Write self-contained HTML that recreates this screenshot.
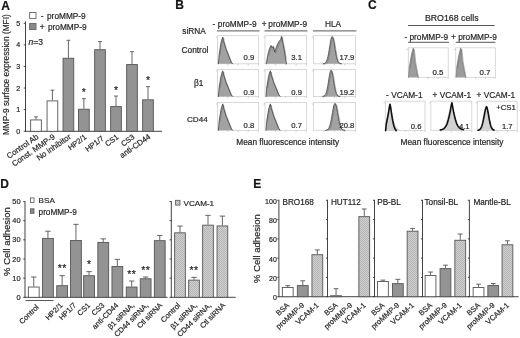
<!DOCTYPE html>
<html><head><meta charset="utf-8"><title>Figure</title>
<style>
html,body{margin:0;padding:0;background:#fff;width:520px;height:338px;overflow:hidden}
svg{display:block;filter:blur(0.3px)}
text{font-family:"Liberation Sans", sans-serif;stroke:#2a2a2a;stroke-width:0.2px}
</style></head><body>
<svg width="520" height="338" viewBox="0 0 520 338">
<defs>
<pattern id="hatch" width="2" height="2" patternUnits="userSpaceOnUse">
<rect width="2" height="2" fill="#d0d0d0"/><rect width="1" height="1" fill="#b4b4b4"/><rect x="1" y="1" width="1" height="1" fill="#b4b4b4"/>
</pattern>
</defs>
<text x="1.3" y="9.8" font-size="12" font-weight="bold" fill="#111">A</text>
<line x1="25.50" y1="21.40" x2="25.50" y2="131.80" stroke="#3a3a3a" stroke-width="0.95"/>
<line x1="25.00" y1="131.30" x2="162.00" y2="131.30" stroke="#3a3a3a" stroke-width="0.95"/>
<line x1="23.70" y1="131.20" x2="25.50" y2="131.20" stroke="#3a3a3a" stroke-width="0.9"/>
<text x="20.3" y="133.8" font-size="7.2" text-anchor="end" fill="#1c1c1c">0</text>
<line x1="23.70" y1="109.62" x2="25.50" y2="109.62" stroke="#3a3a3a" stroke-width="0.9"/>
<text x="20.3" y="112.22" font-size="7.2" text-anchor="end" fill="#1c1c1c">1</text>
<line x1="23.70" y1="88.04" x2="25.50" y2="88.04" stroke="#3a3a3a" stroke-width="0.9"/>
<text x="20.3" y="90.64" font-size="7.2" text-anchor="end" fill="#1c1c1c">2</text>
<line x1="23.70" y1="66.46" x2="25.50" y2="66.46" stroke="#3a3a3a" stroke-width="0.9"/>
<text x="20.3" y="69.06" font-size="7.2" text-anchor="end" fill="#1c1c1c">3</text>
<line x1="23.70" y1="44.88" x2="25.50" y2="44.88" stroke="#3a3a3a" stroke-width="0.9"/>
<text x="20.3" y="47.48" font-size="7.2" text-anchor="end" fill="#1c1c1c">4</text>
<line x1="23.70" y1="23.30" x2="25.50" y2="23.30" stroke="#3a3a3a" stroke-width="0.9"/>
<text x="20.3" y="25.9" font-size="7.2" text-anchor="end" fill="#1c1c1c">5</text>
<text x="8.6" y="74.7" font-size="8.3" text-anchor="middle" fill="#1c1c1c" transform="rotate(-90 8.6 74.7)">MMP-9 surface expression (MFI)</text>
<rect x="29.60" y="12.50" width="6.40" height="6.00" fill="#ffffff" stroke="#666" stroke-width="0.9"/>
<text x="40.8" y="19.0" font-size="8.3" fill="#1c1c1c">-</text>
<text x="47.0" y="19.0" font-size="8.3" fill="#1c1c1c">proMMP-9</text>
<rect x="29.60" y="23.50" width="6.40" height="6.00" fill="#8a8a8a" stroke="#666" stroke-width="0.9"/>
<text x="39.8" y="29.8" font-size="8.3" fill="#1c1c1c">+</text>
<text x="47.9" y="29.8" font-size="8.3" fill="#1c1c1c">proMMP-9</text>
<text x="28.6" y="44.7" font-size="8.5" fill="#1c1c1c"><tspan font-style="italic">n</tspan>=3</text>
<line x1="36.00" y1="119.48" x2="36.00" y2="116.86" stroke="#555" stroke-width="0.9"/>
<line x1="34.10" y1="116.86" x2="37.90" y2="116.86" stroke="#555" stroke-width="0.9"/>
<rect x="30.65" y="119.93" width="10.70" height="11.37" fill="#ffffff" stroke="#555" stroke-width="0.9"/>
<text x="39.2" y="137.9" font-size="7.9" text-anchor="end" fill="#1c1c1c" transform="rotate(-35 39.2 137.9)">Control Ab</text>
<line x1="52.40" y1="100.45" x2="52.40" y2="90.17" stroke="#555" stroke-width="0.9"/>
<line x1="50.50" y1="90.17" x2="54.30" y2="90.17" stroke="#555" stroke-width="0.9"/>
<rect x="47.05" y="100.90" width="10.70" height="30.40" fill="#ffffff" stroke="#555" stroke-width="0.9"/>
<text x="55.6" y="137.9" font-size="7.9" text-anchor="end" fill="#1c1c1c" transform="rotate(-35 55.6 137.9)">Const. MMP-9</text>
<line x1="68.40" y1="57.78" x2="68.40" y2="40.28" stroke="#555" stroke-width="0.9"/>
<line x1="66.50" y1="40.28" x2="70.30" y2="40.28" stroke="#555" stroke-width="0.9"/>
<rect x="63.05" y="58.23" width="10.70" height="73.07" fill="#939393" stroke="#555" stroke-width="0.9"/>
<text x="71.6" y="137.9" font-size="7.9" text-anchor="end" fill="#1c1c1c" transform="rotate(-35 71.6 137.9)">No inhibitor</text>
<line x1="83.90" y1="108.76" x2="83.90" y2="98.70" stroke="#555" stroke-width="0.9"/>
<line x1="82.00" y1="98.70" x2="85.80" y2="98.70" stroke="#555" stroke-width="0.9"/>
<rect x="78.55" y="109.21" width="10.70" height="22.09" fill="#939393" stroke="#555" stroke-width="0.9"/>
<text x="83.9" y="96.2" font-size="10.5" text-anchor="middle" fill="#1c1c1c">*</text>
<text x="87.1" y="137.9" font-size="7.5" text-anchor="end" fill="#1c1c1c" transform="rotate(-37 87.1 137.9)">HP2/1</text>
<line x1="100.00" y1="49.25" x2="100.00" y2="41.59" stroke="#555" stroke-width="0.9"/>
<line x1="98.10" y1="41.59" x2="101.90" y2="41.59" stroke="#555" stroke-width="0.9"/>
<rect x="94.65" y="49.70" width="10.70" height="81.60" fill="#939393" stroke="#555" stroke-width="0.9"/>
<text x="104.4" y="139.4" font-size="7.5" text-anchor="end" fill="#1c1c1c" transform="rotate(-37 104.4 139.4)">HP1/7</text>
<line x1="116.00" y1="106.14" x2="116.00" y2="96.07" stroke="#555" stroke-width="0.9"/>
<line x1="114.10" y1="96.07" x2="117.90" y2="96.07" stroke="#555" stroke-width="0.9"/>
<rect x="110.65" y="106.59" width="10.70" height="24.71" fill="#939393" stroke="#555" stroke-width="0.9"/>
<text x="116.0" y="93.57" font-size="10.5" text-anchor="middle" fill="#1c1c1c">*</text>
<text x="119.2" y="137.9" font-size="7.5" text-anchor="end" fill="#1c1c1c" transform="rotate(-37 119.2 137.9)">CS1</text>
<line x1="132.00" y1="64.13" x2="132.00" y2="51.66" stroke="#555" stroke-width="0.9"/>
<line x1="130.10" y1="51.66" x2="133.90" y2="51.66" stroke="#555" stroke-width="0.9"/>
<rect x="126.65" y="64.58" width="10.70" height="66.72" fill="#939393" stroke="#555" stroke-width="0.9"/>
<text x="135.2" y="137.9" font-size="7.5" text-anchor="end" fill="#1c1c1c" transform="rotate(-37 135.2 137.9)">CS3</text>
<line x1="148.00" y1="99.36" x2="148.00" y2="86.66" stroke="#555" stroke-width="0.9"/>
<line x1="146.10" y1="86.66" x2="149.90" y2="86.66" stroke="#555" stroke-width="0.9"/>
<rect x="142.65" y="99.81" width="10.70" height="31.49" fill="#939393" stroke="#555" stroke-width="0.9"/>
<text x="148.0" y="84.16" font-size="10.5" text-anchor="middle" fill="#1c1c1c">*</text>
<text x="151.2" y="137.9" font-size="7.9" text-anchor="end" fill="#1c1c1c" transform="rotate(-35 151.2 137.9)">anti-CD44</text>
<text x="175.2" y="8.9" font-size="12" font-weight="bold" fill="#111">B</text>
<text x="212.4" y="27.2" font-size="8.3" fill="#1c1c1c">-</text>
<text x="217.8" y="27.2" font-size="8.3" fill="#1c1c1c">proMMP-9</text>
<text x="261.8" y="27.2" font-size="8.3" fill="#1c1c1c">+</text>
<text x="268.3" y="27.2" font-size="8.3" fill="#1c1c1c">proMMP-9</text>
<text x="333.1" y="27.2" font-size="8.3" text-anchor="middle" fill="#1c1c1c">HLA</text>
<line x1="216.90" y1="30.90" x2="259.50" y2="30.90" stroke="#444" stroke-width="0.9"/>
<line x1="264.50" y1="30.90" x2="307.50" y2="30.90" stroke="#444" stroke-width="0.9"/>
<line x1="312.90" y1="30.90" x2="356.40" y2="30.90" stroke="#444" stroke-width="0.9"/>
<text x="182.3" y="33.6" font-size="8.3" fill="#1c1c1c">siRNA</text>
<text x="181.6" y="52.9" font-size="8.3" fill="#1c1c1c">Control</text>
<text x="194.0" y="86.4" font-size="8.3" fill="#1c1c1c">&#946;1</text>
<text x="187.0" y="122.0" font-size="8.1" fill="#1c1c1c">CD44</text>
<rect x="217.4" y="35.7" width="41.10" height="28.10" fill="none" stroke="#cfcfcf" stroke-width="0.8"/>
<line x1="227.68" y1="63.80" x2="227.68" y2="65.40" stroke="#bbb" stroke-width="0.7"/>
<line x1="237.95" y1="63.80" x2="237.95" y2="65.40" stroke="#bbb" stroke-width="0.7"/>
<line x1="248.22" y1="63.80" x2="248.22" y2="65.40" stroke="#bbb" stroke-width="0.7"/>
<line x1="258.50" y1="63.80" x2="258.50" y2="65.40" stroke="#bbb" stroke-width="0.7"/>
<line x1="215.80" y1="37.20" x2="217.40" y2="37.20" stroke="#bbb" stroke-width="0.7"/>
<path d="M218.4,63.8 L219.2,54.0 L221.0,42.7 L222.3,38.2 L222.8,37.1 L223.4,40.5 L225.7,48.3 L228.7,55.9 L231.1,62.1 L232.6,63.8 Z" fill="#a2a2a2" stroke="none"/>
<path d="M220.1,55.2 L221.9,43.9 L223.2,39.4 L223.7,38.3 L224.3,41.7 L226.6,49.5 L229.6,57.1 L232.0,63.3" fill="none" stroke="#6a6a6a" stroke-width="0.5" stroke-linejoin="round"/>
<path d="M218.4,63.8 L219.2,54.0 L221.0,42.7 L222.3,38.2 L222.8,37.1 L223.4,40.5 L225.7,48.3 L228.7,55.9 L231.1,62.1 L232.6,63.8" fill="none" stroke="#3a3a3a" stroke-width="0.75" stroke-linejoin="round" stroke-linecap="round"/>
<text x="254.3" y="60.1" font-size="7.7" text-anchor="end" fill="#1c1c1c">0.9</text>
<rect x="265.0" y="35.7" width="41.50" height="28.10" fill="none" stroke="#cfcfcf" stroke-width="0.8"/>
<line x1="275.38" y1="63.80" x2="275.38" y2="65.40" stroke="#bbb" stroke-width="0.7"/>
<line x1="285.75" y1="63.80" x2="285.75" y2="65.40" stroke="#bbb" stroke-width="0.7"/>
<line x1="296.12" y1="63.80" x2="296.12" y2="65.40" stroke="#bbb" stroke-width="0.7"/>
<line x1="306.50" y1="63.80" x2="306.50" y2="65.40" stroke="#bbb" stroke-width="0.7"/>
<line x1="263.40" y1="37.20" x2="265.00" y2="37.20" stroke="#bbb" stroke-width="0.7"/>
<path d="M266.3,63.8 L268.0,54.0 L269.6,48.3 L271.0,45.5 L272.0,47.5 L273.3,46.4 L274.6,52.0 L276.0,48.3 L277.6,44.1 L279.2,41.3 L280.6,39.6 L281.6,36.3 L282.6,41.9 L284.2,49.8 L285.5,58.2 L286.5,63.8 Z" fill="#a2a2a2" stroke="none"/>
<path d="M268.9,55.2 L270.5,49.5 L271.9,46.7 L272.9,48.7 L274.2,47.6 L275.5,53.2 L276.9,49.5 L278.5,45.3 L280.1,42.5 L281.5,40.8 L282.5,37.5 L283.5,43.1 L285.1,51.0 L286.4,59.4" fill="none" stroke="#6a6a6a" stroke-width="0.5" stroke-linejoin="round"/>
<path d="M266.3,63.8 L268.0,54.0 L269.6,48.3 L271.0,45.5 L272.0,47.5 L273.3,46.4 L274.6,52.0 L276.0,48.3 L277.6,44.1 L279.2,41.3 L280.6,39.6 L281.6,36.3 L282.6,41.9 L284.2,49.8 L285.5,58.2 L286.5,63.8" fill="none" stroke="#3a3a3a" stroke-width="0.75" stroke-linejoin="round" stroke-linecap="round"/>
<text x="302.0" y="60.1" font-size="7.7" text-anchor="end" fill="#1c1c1c">3.1</text>
<rect x="313.4" y="35.7" width="42.00" height="28.10" fill="none" stroke="#cfcfcf" stroke-width="0.8"/>
<line x1="323.90" y1="63.80" x2="323.90" y2="65.40" stroke="#bbb" stroke-width="0.7"/>
<line x1="334.40" y1="63.80" x2="334.40" y2="65.40" stroke="#bbb" stroke-width="0.7"/>
<line x1="344.90" y1="63.80" x2="344.90" y2="65.40" stroke="#bbb" stroke-width="0.7"/>
<line x1="355.40" y1="63.80" x2="355.40" y2="65.40" stroke="#bbb" stroke-width="0.7"/>
<line x1="311.80" y1="37.20" x2="313.40" y2="37.20" stroke="#bbb" stroke-width="0.7"/>
<path d="M323.2,63.8 L323.2,63.6 L323.8,63.5 L324.4,63.4 L325.0,63.1 L325.6,62.6 L326.2,61.8 L326.8,60.5 L327.4,58.7 L328.0,56.3 L328.6,53.3 L329.2,49.7 L329.8,45.9 L330.4,42.2 L331.0,39.2 L331.6,37.2 L332.2,36.5 L332.8,37.2 L333.4,39.2 L334.0,42.2 L334.6,45.9 L335.2,49.7 L335.8,53.3 L336.4,56.3 L337.0,58.7 L337.6,60.5 L338.2,61.8 L338.8,62.6 L339.4,63.1 L340.0,63.4 L340.6,63.5 L341.2,63.6 L341.2,63.8 Z" fill="#a2a2a2" stroke="none"/>
<path d="M324.1,63.8 L324.7,63.8 L325.3,63.8 L325.9,63.8 L326.5,63.8 L327.1,63.0 L327.7,61.7 L328.3,59.9 L328.9,57.5 L329.5,54.5 L330.1,50.9 L330.7,47.1 L331.3,43.4 L331.9,40.4 L332.5,38.4 L333.1,37.7 L333.7,38.4 L334.3,40.4 L334.9,43.4 L335.5,47.1 L336.1,50.9 L336.7,54.5 L337.3,57.5 L337.9,59.9 L338.5,61.7 L339.1,63.0 L339.7,63.8 L340.3,63.8 L340.9,63.8 L341.5,63.8 L342.1,63.8" fill="none" stroke="#6a6a6a" stroke-width="0.5" stroke-linejoin="round"/>
<path d="M323.2,63.8 L323.2,63.6 L323.8,63.5 L324.4,63.4 L325.0,63.1 L325.6,62.6 L326.2,61.8 L326.8,60.5 L327.4,58.7 L328.0,56.3 L328.6,53.3 L329.2,49.7 L329.8,45.9 L330.4,42.2 L331.0,39.2 L331.6,37.2 L332.2,36.5 L332.8,37.2 L333.4,39.2 L334.0,42.2 L334.6,45.9 L335.2,49.7 L335.8,53.3 L336.4,56.3 L337.0,58.7 L337.6,60.5 L338.2,61.8 L338.8,62.6 L339.4,63.1 L340.0,63.4 L340.6,63.5 L341.2,63.6 L341.2,63.8" fill="none" stroke="#3a3a3a" stroke-width="0.75" stroke-linejoin="round" stroke-linecap="round"/>
<text x="354.4" y="60.1" font-size="7.7" text-anchor="end" fill="#1c1c1c">17.9</text>
<rect x="217.4" y="69.4" width="41.10" height="27.00" fill="none" stroke="#cfcfcf" stroke-width="0.8"/>
<line x1="227.68" y1="96.40" x2="227.68" y2="98.00" stroke="#bbb" stroke-width="0.7"/>
<line x1="237.95" y1="96.40" x2="237.95" y2="98.00" stroke="#bbb" stroke-width="0.7"/>
<line x1="248.22" y1="96.40" x2="248.22" y2="98.00" stroke="#bbb" stroke-width="0.7"/>
<line x1="258.50" y1="96.40" x2="258.50" y2="98.00" stroke="#bbb" stroke-width="0.7"/>
<line x1="215.80" y1="70.90" x2="217.40" y2="70.90" stroke="#bbb" stroke-width="0.7"/>
<path d="M218.4,96.4 L219.2,87.0 L221.0,76.2 L222.3,71.8 L222.8,70.8 L223.4,74.0 L225.7,81.6 L228.7,88.8 L231.1,94.8 L232.6,96.4 Z" fill="#a2a2a2" stroke="none"/>
<path d="M220.1,88.2 L221.9,77.4 L223.2,73.0 L223.7,72.0 L224.3,75.2 L226.6,82.8 L229.6,90.0 L232.0,96.0" fill="none" stroke="#6a6a6a" stroke-width="0.5" stroke-linejoin="round"/>
<path d="M218.4,96.4 L219.2,87.0 L221.0,76.2 L222.3,71.8 L222.8,70.8 L223.4,74.0 L225.7,81.6 L228.7,88.8 L231.1,94.8 L232.6,96.4" fill="none" stroke="#3a3a3a" stroke-width="0.75" stroke-linejoin="round" stroke-linecap="round"/>
<text x="254.3" y="94.6" font-size="7.7" text-anchor="end" fill="#1c1c1c">0.9</text>
<rect x="265.0" y="69.4" width="41.50" height="27.00" fill="none" stroke="#cfcfcf" stroke-width="0.8"/>
<line x1="275.38" y1="96.40" x2="275.38" y2="98.00" stroke="#bbb" stroke-width="0.7"/>
<line x1="285.75" y1="96.40" x2="285.75" y2="98.00" stroke="#bbb" stroke-width="0.7"/>
<line x1="296.12" y1="96.40" x2="296.12" y2="98.00" stroke="#bbb" stroke-width="0.7"/>
<line x1="306.50" y1="96.40" x2="306.50" y2="98.00" stroke="#bbb" stroke-width="0.7"/>
<line x1="263.40" y1="70.90" x2="265.00" y2="70.90" stroke="#bbb" stroke-width="0.7"/>
<path d="M266.0,96.4 L266.8,87.0 L268.6,76.2 L269.9,71.8 L270.4,70.8 L271.0,74.0 L273.3,81.6 L276.3,88.8 L278.7,94.8 L280.2,96.4 Z" fill="#a2a2a2" stroke="none"/>
<path d="M267.7,88.2 L269.5,77.4 L270.8,73.0 L271.3,72.0 L271.9,75.2 L274.2,82.8 L277.2,90.0 L279.6,96.0" fill="none" stroke="#6a6a6a" stroke-width="0.5" stroke-linejoin="round"/>
<path d="M266.0,96.4 L266.8,87.0 L268.6,76.2 L269.9,71.8 L270.4,70.8 L271.0,74.0 L273.3,81.6 L276.3,88.8 L278.7,94.8 L280.2,96.4" fill="none" stroke="#3a3a3a" stroke-width="0.75" stroke-linejoin="round" stroke-linecap="round"/>
<text x="302.0" y="94.6" font-size="7.7" text-anchor="end" fill="#1c1c1c">0.9</text>
<rect x="313.4" y="69.4" width="42.00" height="27.00" fill="none" stroke="#cfcfcf" stroke-width="0.8"/>
<line x1="323.90" y1="96.40" x2="323.90" y2="98.00" stroke="#bbb" stroke-width="0.7"/>
<line x1="334.40" y1="96.40" x2="334.40" y2="98.00" stroke="#bbb" stroke-width="0.7"/>
<line x1="344.90" y1="96.40" x2="344.90" y2="98.00" stroke="#bbb" stroke-width="0.7"/>
<line x1="355.40" y1="96.40" x2="355.40" y2="98.00" stroke="#bbb" stroke-width="0.7"/>
<line x1="311.80" y1="70.90" x2="313.40" y2="70.90" stroke="#bbb" stroke-width="0.7"/>
<path d="M322.6,96.4 L322.6,96.2 L323.2,96.1 L323.7,96.0 L324.3,95.7 L324.9,95.2 L325.4,94.4 L326.0,93.3 L326.6,91.5 L327.1,89.2 L327.7,86.3 L328.3,82.8 L328.8,79.2 L329.4,75.7 L330.0,72.8 L330.5,70.9 L331.1,70.2 L331.7,70.9 L332.2,72.8 L332.8,75.7 L333.4,79.2 L333.9,82.8 L334.5,86.3 L335.1,89.2 L335.6,91.5 L336.2,93.3 L336.8,94.4 L337.3,95.2 L337.9,95.7 L338.5,96.0 L339.0,96.1 L339.6,96.2 L339.6,96.4 Z" fill="#a2a2a2" stroke="none"/>
<path d="M323.5,96.4 L324.1,96.4 L324.6,96.4 L325.2,96.4 L325.8,96.4 L326.3,95.6 L326.9,94.5 L327.5,92.7 L328.0,90.4 L328.6,87.5 L329.2,84.0 L329.7,80.4 L330.3,76.9 L330.9,74.0 L331.4,72.1 L332.0,71.4 L332.6,72.1 L333.1,74.0 L333.7,76.9 L334.3,80.4 L334.8,84.0 L335.4,87.5 L336.0,90.4 L336.5,92.7 L337.1,94.5 L337.7,95.6 L338.2,96.4 L338.8,96.4 L339.4,96.4 L339.9,96.4 L340.5,96.4" fill="none" stroke="#6a6a6a" stroke-width="0.5" stroke-linejoin="round"/>
<path d="M322.6,96.4 L322.6,96.2 L323.2,96.1 L323.7,96.0 L324.3,95.7 L324.9,95.2 L325.4,94.4 L326.0,93.3 L326.6,91.5 L327.1,89.2 L327.7,86.3 L328.3,82.8 L328.8,79.2 L329.4,75.7 L330.0,72.8 L330.5,70.9 L331.1,70.2 L331.7,70.9 L332.2,72.8 L332.8,75.7 L333.4,79.2 L333.9,82.8 L334.5,86.3 L335.1,89.2 L335.6,91.5 L336.2,93.3 L336.8,94.4 L337.3,95.2 L337.9,95.7 L338.5,96.0 L339.0,96.1 L339.6,96.2 L339.6,96.4" fill="none" stroke="#3a3a3a" stroke-width="0.75" stroke-linejoin="round" stroke-linecap="round"/>
<text x="354.4" y="94.6" font-size="7.7" text-anchor="end" fill="#1c1c1c">19.2</text>
<rect x="217.4" y="102.5" width="41.10" height="27.80" fill="none" stroke="#cfcfcf" stroke-width="0.8"/>
<line x1="227.68" y1="130.30" x2="227.68" y2="131.90" stroke="#bbb" stroke-width="0.7"/>
<line x1="237.95" y1="130.30" x2="237.95" y2="131.90" stroke="#bbb" stroke-width="0.7"/>
<line x1="248.22" y1="130.30" x2="248.22" y2="131.90" stroke="#bbb" stroke-width="0.7"/>
<line x1="258.50" y1="130.30" x2="258.50" y2="131.90" stroke="#bbb" stroke-width="0.7"/>
<line x1="215.80" y1="104.00" x2="217.40" y2="104.00" stroke="#bbb" stroke-width="0.7"/>
<path d="M218.4,130.3 L219.2,120.6 L221.0,109.5 L222.3,105.0 L222.8,103.9 L223.4,107.2 L225.7,115.0 L228.7,122.5 L231.1,128.6 L232.6,130.3 Z" fill="#a2a2a2" stroke="none"/>
<path d="M220.1,121.8 L221.9,110.7 L223.2,106.2 L223.7,105.1 L224.3,108.4 L226.6,116.2 L229.6,123.7 L232.0,129.8" fill="none" stroke="#6a6a6a" stroke-width="0.5" stroke-linejoin="round"/>
<path d="M218.4,130.3 L219.2,120.6 L221.0,109.5 L222.3,105.0 L222.8,103.9 L223.4,107.2 L225.7,115.0 L228.7,122.5 L231.1,128.6 L232.6,130.3" fill="none" stroke="#3a3a3a" stroke-width="0.75" stroke-linejoin="round" stroke-linecap="round"/>
<text x="254.3" y="128.0" font-size="7.7" text-anchor="end" fill="#1c1c1c">0.8</text>
<rect x="265.0" y="102.5" width="41.50" height="27.80" fill="none" stroke="#cfcfcf" stroke-width="0.8"/>
<line x1="275.38" y1="130.30" x2="275.38" y2="131.90" stroke="#bbb" stroke-width="0.7"/>
<line x1="285.75" y1="130.30" x2="285.75" y2="131.90" stroke="#bbb" stroke-width="0.7"/>
<line x1="296.12" y1="130.30" x2="296.12" y2="131.90" stroke="#bbb" stroke-width="0.7"/>
<line x1="306.50" y1="130.30" x2="306.50" y2="131.90" stroke="#bbb" stroke-width="0.7"/>
<line x1="263.40" y1="104.00" x2="265.00" y2="104.00" stroke="#bbb" stroke-width="0.7"/>
<path d="M266.0,130.3 L266.8,120.6 L268.6,109.5 L269.9,105.0 L270.4,103.9 L271.0,107.2 L273.3,115.0 L276.3,122.5 L278.7,128.6 L280.2,130.3 Z" fill="#a2a2a2" stroke="none"/>
<path d="M267.7,121.8 L269.5,110.7 L270.8,106.2 L271.3,105.1 L271.9,108.4 L274.2,116.2 L277.2,123.7 L279.6,129.8" fill="none" stroke="#6a6a6a" stroke-width="0.5" stroke-linejoin="round"/>
<path d="M266.0,130.3 L266.8,120.6 L268.6,109.5 L269.9,105.0 L270.4,103.9 L271.0,107.2 L273.3,115.0 L276.3,122.5 L278.7,128.6 L280.2,130.3" fill="none" stroke="#3a3a3a" stroke-width="0.75" stroke-linejoin="round" stroke-linecap="round"/>
<text x="302.0" y="128.0" font-size="7.7" text-anchor="end" fill="#1c1c1c">0.7</text>
<rect x="313.4" y="102.5" width="42.00" height="27.80" fill="none" stroke="#cfcfcf" stroke-width="0.8"/>
<line x1="323.90" y1="130.30" x2="323.90" y2="131.90" stroke="#bbb" stroke-width="0.7"/>
<line x1="334.40" y1="130.30" x2="334.40" y2="131.90" stroke="#bbb" stroke-width="0.7"/>
<line x1="344.90" y1="130.30" x2="344.90" y2="131.90" stroke="#bbb" stroke-width="0.7"/>
<line x1="355.40" y1="130.30" x2="355.40" y2="131.90" stroke="#bbb" stroke-width="0.7"/>
<line x1="311.80" y1="104.00" x2="313.40" y2="104.00" stroke="#bbb" stroke-width="0.7"/>
<path d="M325.5,130.3 L325.5,130.1 L326.1,130.0 L326.8,129.9 L327.4,129.6 L328.0,129.1 L328.7,128.3 L329.3,127.1 L329.9,125.3 L330.6,122.9 L331.2,119.9 L331.8,116.3 L332.5,112.6 L333.1,109.0 L333.7,106.0 L334.4,104.0 L335.0,103.3 L335.6,104.0 L336.3,106.0 L336.9,109.0 L337.5,112.6 L338.2,116.3 L338.8,119.9 L339.4,122.9 L340.1,125.3 L340.7,127.1 L341.3,128.3 L342.0,129.1 L342.6,129.6 L343.2,129.9 L343.9,130.0 L344.5,130.1 L344.5,130.3 Z" fill="#a2a2a2" stroke="none"/>
<path d="M326.4,130.3 L327.0,130.3 L327.7,130.3 L328.3,130.3 L328.9,130.3 L329.6,129.5 L330.2,128.3 L330.8,126.5 L331.5,124.1 L332.1,121.1 L332.7,117.5 L333.4,113.8 L334.0,110.2 L334.6,107.2 L335.3,105.2 L335.9,104.5 L336.5,105.2 L337.2,107.2 L337.8,110.2 L338.4,113.8 L339.1,117.5 L339.7,121.1 L340.3,124.1 L341.0,126.5 L341.6,128.3 L342.2,129.5 L342.9,130.3 L343.5,130.3 L344.1,130.3 L344.8,130.3 L345.4,130.3" fill="none" stroke="#6a6a6a" stroke-width="0.5" stroke-linejoin="round"/>
<path d="M325.5,130.3 L325.5,130.1 L326.1,130.0 L326.8,129.9 L327.4,129.6 L328.0,129.1 L328.7,128.3 L329.3,127.1 L329.9,125.3 L330.6,122.9 L331.2,119.9 L331.8,116.3 L332.5,112.6 L333.1,109.0 L333.7,106.0 L334.4,104.0 L335.0,103.3 L335.6,104.0 L336.3,106.0 L336.9,109.0 L337.5,112.6 L338.2,116.3 L338.8,119.9 L339.4,122.9 L340.1,125.3 L340.7,127.1 L341.3,128.3 L342.0,129.1 L342.6,129.6 L343.2,129.9 L343.9,130.0 L344.5,130.1 L344.5,130.3" fill="none" stroke="#3a3a3a" stroke-width="0.75" stroke-linejoin="round" stroke-linecap="round"/>
<text x="354.4" y="128.0" font-size="7.7" text-anchor="end" fill="#1c1c1c">20.8</text>
<text x="287.7" y="145.4" font-size="8.3" text-anchor="middle" fill="#1c1c1c">Mean fluorescence intensity</text>
<text x="368.0" y="9.3" font-size="12" font-weight="bold" fill="#111">C</text>
<text x="451.8" y="21.4" font-size="8.8" text-anchor="middle" fill="#1c1c1c">BRO168 cells</text>
<line x1="408.00" y1="25.50" x2="494.60" y2="25.50" stroke="#444" stroke-width="0.9"/>
<text x="426.3" y="39.8" font-size="8.3" text-anchor="middle" fill="#1c1c1c">- proMMP-9</text>
<text x="474.0" y="39.8" font-size="8.3" text-anchor="middle" fill="#1c1c1c">+ proMMP-9</text>
<line x1="408.00" y1="42.30" x2="449.00" y2="42.30" stroke="#444" stroke-width="0.9"/>
<line x1="455.80" y1="42.30" x2="495.30" y2="42.30" stroke="#444" stroke-width="0.9"/>
<rect x="408.3" y="47.8" width="39.90" height="29.50" fill="none" stroke="#cfcfcf" stroke-width="0.8"/>
<line x1="418.27" y1="77.30" x2="418.27" y2="78.90" stroke="#bbb" stroke-width="0.7"/>
<line x1="428.25" y1="77.30" x2="428.25" y2="78.90" stroke="#bbb" stroke-width="0.7"/>
<line x1="438.23" y1="77.30" x2="438.23" y2="78.90" stroke="#bbb" stroke-width="0.7"/>
<line x1="448.20" y1="77.30" x2="448.20" y2="78.90" stroke="#bbb" stroke-width="0.7"/>
<line x1="406.70" y1="49.30" x2="408.30" y2="49.30" stroke="#bbb" stroke-width="0.7"/>
<path d="M408.5,77.3 L409.3,67.0 L411.3,55.2 L412.8,49.3 L413.3,48.1 L413.9,51.6 L414.8,61.1 L416.3,69.0 L417.6,75.5 L418.3,77.3 Z" fill="#9c9c9c" stroke="none"/>
<path d="M410.2,68.2 L412.2,56.4 L413.7,50.5 L414.2,49.3 L414.8,52.8 L415.7,62.3 L417.2,70.2 L418.4,76.7" fill="none" stroke="#6a6a6a" stroke-width="0.5" stroke-linejoin="round"/>
<path d="M408.5,77.3 L409.3,67.0 L411.3,55.2 L412.8,49.3 L413.3,48.1 L413.9,51.6 L414.8,61.1 L416.3,69.0 L417.6,75.5 L418.3,77.3" fill="none" stroke="#666" stroke-width="0.6" stroke-linejoin="round" stroke-linecap="round"/>
<text x="443.4" y="74.7" font-size="7.9" text-anchor="end" fill="#1c1c1c">0.5</text>
<rect x="455.8" y="47.8" width="39.50" height="29.50" fill="none" stroke="#cfcfcf" stroke-width="0.8"/>
<line x1="465.68" y1="77.30" x2="465.68" y2="78.90" stroke="#bbb" stroke-width="0.7"/>
<line x1="475.55" y1="77.30" x2="475.55" y2="78.90" stroke="#bbb" stroke-width="0.7"/>
<line x1="485.43" y1="77.30" x2="485.43" y2="78.90" stroke="#bbb" stroke-width="0.7"/>
<line x1="495.30" y1="77.30" x2="495.30" y2="78.90" stroke="#bbb" stroke-width="0.7"/>
<line x1="454.20" y1="49.30" x2="455.80" y2="49.30" stroke="#bbb" stroke-width="0.7"/>
<path d="M456.0,77.3 L456.8,67.0 L458.8,55.2 L460.3,49.3 L460.8,48.1 L461.4,51.6 L462.3,61.1 L463.8,69.0 L465.1,75.5 L465.8,77.3 Z" fill="#9c9c9c" stroke="none"/>
<path d="M457.7,68.2 L459.7,56.4 L461.2,50.5 L461.7,49.3 L462.3,52.8 L463.2,62.3 L464.7,70.2 L465.9,76.7" fill="none" stroke="#6a6a6a" stroke-width="0.5" stroke-linejoin="round"/>
<path d="M456.0,77.3 L456.8,67.0 L458.8,55.2 L460.3,49.3 L460.8,48.1 L461.4,51.6 L462.3,61.1 L463.8,69.0 L465.1,75.5 L465.8,77.3" fill="none" stroke="#666" stroke-width="0.6" stroke-linejoin="round" stroke-linecap="round"/>
<text x="490.5" y="74.7" font-size="7.9" text-anchor="end" fill="#1c1c1c">0.7</text>
<text x="404.3" y="97.5" font-size="8.3" text-anchor="middle" fill="#1c1c1c">- VCAM-1</text>
<text x="451.8" y="97.5" font-size="8.3" text-anchor="middle" fill="#1c1c1c">+ VCAM-1</text>
<text x="495.8" y="97.5" font-size="8.3" text-anchor="middle" fill="#1c1c1c">+ VCAM-1</text>
<rect x="385.3" y="101.2" width="39.70" height="29.40" fill="none" stroke="#cfcfcf" stroke-width="0.8"/>
<line x1="395.23" y1="130.60" x2="395.23" y2="132.20" stroke="#bbb" stroke-width="0.7"/>
<line x1="405.15" y1="130.60" x2="405.15" y2="132.20" stroke="#bbb" stroke-width="0.7"/>
<line x1="415.07" y1="130.60" x2="415.07" y2="132.20" stroke="#bbb" stroke-width="0.7"/>
<line x1="425.00" y1="130.60" x2="425.00" y2="132.20" stroke="#bbb" stroke-width="0.7"/>
<line x1="383.70" y1="102.70" x2="385.30" y2="102.70" stroke="#bbb" stroke-width="0.7"/>
<path d="M385.6,130.6 L386.0,123.0 L388.0,112.0 L389.9,102.5 L391.5,112.0 L393.5,121.0 L396.5,127.5 L400.0,130.6 L400.0,130.6 L385.6,130.6 Z" fill="#d2d2d2" stroke="none"/>
<path d="M385.6,130.6 L386.2,124.5 L387.4,118.5 L388.6,112.0 L389.4,107.0 L390.0,104.2 L390.7,107.5 L391.6,114.0 L392.7,120.5 L393.9,126.0 L395.0,129.0 L396.2,130.6" fill="none" stroke="#111" stroke-width="1.6" stroke-linejoin="round" stroke-linecap="round"/>
<text x="421.4" y="129.2" font-size="7.6" text-anchor="end" fill="#1c1c1c">0.6</text>
<rect x="430.9" y="101.2" width="40.90" height="29.40" fill="none" stroke="#cfcfcf" stroke-width="0.8"/>
<line x1="441.12" y1="130.60" x2="441.12" y2="132.20" stroke="#bbb" stroke-width="0.7"/>
<line x1="451.35" y1="130.60" x2="451.35" y2="132.20" stroke="#bbb" stroke-width="0.7"/>
<line x1="461.57" y1="130.60" x2="461.57" y2="132.20" stroke="#bbb" stroke-width="0.7"/>
<line x1="471.80" y1="130.60" x2="471.80" y2="132.20" stroke="#bbb" stroke-width="0.7"/>
<line x1="429.30" y1="102.70" x2="430.90" y2="102.70" stroke="#bbb" stroke-width="0.7"/>
<path d="M439.0,130.5 L439.6,130.4 L440.3,130.3 L440.9,130.2 L441.6,129.9 L442.2,129.5 L442.9,128.9 L443.6,128.0 L444.2,127.0 L444.9,125.6 L445.5,123.8 L446.1,121.8 L446.8,119.5 L447.4,117.0 L448.1,114.5 L448.8,112.1 L449.4,110.0 L450.1,108.4 L450.7,107.4 L451.4,107.1 L452.0,107.5 L452.6,108.6 L453.3,110.3 L453.9,112.5 L454.6,114.9 L455.2,117.4 L455.9,119.8 L456.6,122.1 L457.2,124.1 L457.9,125.8 L458.5,127.1 L459.1,128.2 L459.8,129.0 L460.4,129.5 L461.1,129.9 L461.8,130.2 L462.4,130.4 L463.1,130.5 L463.7,130.5 L464.4,130.6 L465.0,130.6 L465.0,130.6 L439.0,130.6 Z" fill="#d2d2d2" stroke="none"/>
<path d="M440.3,129.9 L440.9,129.8 L441.5,129.7 L442.0,129.5 L442.6,129.2 L443.2,129.0 L443.8,128.6 L444.4,128.1 L444.9,127.5 L445.5,126.8 L446.1,125.9 L446.7,124.7 L447.3,123.2 L447.8,121.5 L448.4,119.4 L449.0,117.1 L449.6,114.4 L450.2,111.6 L450.7,108.4 L451.3,105.1 L451.9,102.7 L452.5,106.0 L453.1,109.1 L453.6,112.0 L454.2,114.7 L454.8,117.2 L455.4,119.5 L456.0,121.4 L456.5,123.1 L457.1,124.5 L457.7,125.6 L458.3,126.5 L458.9,127.3 L459.4,127.9 L460.0,128.3 L460.6,128.7 L461.2,129.0 L461.8,129.2 L462.3,129.4 L462.9,129.6 L463.5,129.8" fill="none" stroke="#111" stroke-width="1.6" stroke-linejoin="round" stroke-linecap="round"/>
<text x="469.6" y="129.2" font-size="7.6" text-anchor="end" fill="#1c1c1c">4.1</text>
<rect x="477.2" y="101.2" width="40.00" height="29.40" fill="none" stroke="#cfcfcf" stroke-width="0.8"/>
<line x1="487.20" y1="130.60" x2="487.20" y2="132.20" stroke="#bbb" stroke-width="0.7"/>
<line x1="497.20" y1="130.60" x2="497.20" y2="132.20" stroke="#bbb" stroke-width="0.7"/>
<line x1="507.20" y1="130.60" x2="507.20" y2="132.20" stroke="#bbb" stroke-width="0.7"/>
<line x1="517.20" y1="130.60" x2="517.20" y2="132.20" stroke="#bbb" stroke-width="0.7"/>
<line x1="475.60" y1="102.70" x2="477.20" y2="102.70" stroke="#bbb" stroke-width="0.7"/>
<path d="M477.5,130.4 L478.0,130.4 L478.4,130.2 L478.9,130.0 L479.4,129.7 L479.8,129.3 L480.3,128.8 L480.7,128.0 L481.2,127.1 L481.7,126.0 L482.1,124.6 L482.6,123.1 L483.1,121.3 L483.5,119.4 L484.0,117.5 L484.4,115.6 L484.9,113.8 L485.4,112.3 L485.8,111.1 L486.3,110.3 L486.8,110.0 L487.2,110.2 L487.7,110.9 L488.1,112.0 L488.6,113.5 L489.1,115.2 L489.5,117.1 L490.0,119.0 L490.4,120.9 L490.9,122.7 L491.4,124.3 L491.8,125.7 L492.3,126.9 L492.8,127.9 L493.2,128.6 L493.7,129.2 L494.1,129.6 L494.6,130.0 L495.1,130.2 L495.5,130.3 L496.0,130.4 L496.0,130.6 L477.5,130.6 Z" fill="#d2d2d2" stroke="none"/>
<path d="M478.0,130.2 L478.4,130.2 L478.8,130.0 L479.2,129.9 L479.6,129.6 L480.0,129.3 L480.4,128.9 L480.8,128.3 L481.2,127.6 L481.6,126.6 L482.0,125.5 L482.4,124.1 L482.8,122.5 L483.2,120.7 L483.6,118.7 L484.0,116.6 L484.4,114.5 L484.8,112.4 L485.2,110.5 L485.6,108.9 L486.0,107.6 L486.4,106.7 L486.8,107.1 L487.2,108.3 L487.6,110.0 L488.0,112.0 L488.4,114.2 L488.8,116.5 L489.2,118.8 L489.6,120.9 L490.0,122.8 L490.4,124.5 L490.8,125.9 L491.2,127.1 L491.6,127.9 L492.0,128.6 L492.4,129.1 L492.8,129.5 L493.2,129.8 L493.6,130.0 L494.0,130.1" fill="none" stroke="#111" stroke-width="1.6" stroke-linejoin="round" stroke-linecap="round"/>
<text x="512.5" y="129.2" font-size="7.6" text-anchor="end" fill="#1c1c1c">1.7</text>
<text x="506.0" y="109.9" font-size="7.8" text-anchor="middle" fill="#1c1c1c">+CS1</text>
<text x="452.0" y="145.3" font-size="8.3" text-anchor="middle" fill="#1c1c1c">Mean fluorescence intensity</text>
<text x="0.2" y="187.8" font-size="12" font-weight="bold" fill="#111">D</text>
<line x1="25.00" y1="201.05" x2="25.00" y2="297.80" stroke="#3a3a3a" stroke-width="0.95"/>
<line x1="24.50" y1="297.30" x2="167.60" y2="297.30" stroke="#3a3a3a" stroke-width="0.95"/>
<line x1="23.20" y1="297.30" x2="25.00" y2="297.30" stroke="#3a3a3a" stroke-width="0.9"/>
<text x="20.6" y="299.9" font-size="7.4" text-anchor="end" fill="#1c1c1c">0</text>
<line x1="23.20" y1="278.15" x2="25.00" y2="278.15" stroke="#3a3a3a" stroke-width="0.9"/>
<text x="20.6" y="280.75" font-size="7.4" text-anchor="end" fill="#1c1c1c">10</text>
<line x1="23.20" y1="259.00" x2="25.00" y2="259.00" stroke="#3a3a3a" stroke-width="0.9"/>
<text x="20.6" y="261.6" font-size="7.4" text-anchor="end" fill="#1c1c1c">20</text>
<line x1="23.20" y1="239.85" x2="25.00" y2="239.85" stroke="#3a3a3a" stroke-width="0.9"/>
<text x="20.6" y="242.45" font-size="7.4" text-anchor="end" fill="#1c1c1c">30</text>
<line x1="23.20" y1="220.70" x2="25.00" y2="220.70" stroke="#3a3a3a" stroke-width="0.9"/>
<text x="20.6" y="223.3" font-size="7.4" text-anchor="end" fill="#1c1c1c">40</text>
<line x1="23.20" y1="201.55" x2="25.00" y2="201.55" stroke="#3a3a3a" stroke-width="0.9"/>
<text x="20.6" y="204.15" font-size="7.4" text-anchor="end" fill="#1c1c1c">50</text>
<text x="10.0" y="241.6" font-size="9.5" text-anchor="middle" fill="#1c1c1c" transform="rotate(-90 10.0 241.6)">% Cell adhesion</text>
<rect x="30.40" y="197.90" width="3.60" height="4.50" fill="#ffffff" stroke="#555" stroke-width="0.8"/>
<text x="38.6" y="203.4" font-size="8.1" fill="#1c1c1c">BSA</text>
<rect x="30.40" y="208.80" width="3.60" height="4.50" fill="#8a8a8a" stroke="#555" stroke-width="0.8"/>
<text x="38.6" y="214.6" font-size="8.2" fill="#1c1c1c">proMMP-9</text>
<line x1="33.75" y1="286.58" x2="33.75" y2="277.00" stroke="#555" stroke-width="0.9"/>
<line x1="31.05" y1="277.00" x2="36.45" y2="277.00" stroke="#555" stroke-width="0.9"/>
<rect x="28.35" y="287.03" width="10.80" height="10.27" fill="#ffffff" stroke="#555" stroke-width="0.9"/>
<line x1="47.95" y1="237.94" x2="47.95" y2="231.23" stroke="#555" stroke-width="0.9"/>
<line x1="45.25" y1="231.23" x2="50.65" y2="231.23" stroke="#555" stroke-width="0.9"/>
<rect x="42.55" y="238.38" width="10.80" height="58.92" fill="#939393" stroke="#555" stroke-width="0.9"/>
<line x1="62.15" y1="285.24" x2="62.15" y2="275.66" stroke="#555" stroke-width="0.9"/>
<line x1="59.45" y1="275.66" x2="64.85" y2="275.66" stroke="#555" stroke-width="0.9"/>
<rect x="56.75" y="285.69" width="10.80" height="11.61" fill="#939393" stroke="#555" stroke-width="0.9"/>
<text x="62.15" y="272.26" font-size="10.5" text-anchor="middle" fill="#1c1c1c" letter-spacing="0.3">**</text>
<line x1="75.95" y1="240.04" x2="75.95" y2="224.34" stroke="#555" stroke-width="0.9"/>
<line x1="73.25" y1="224.34" x2="78.65" y2="224.34" stroke="#555" stroke-width="0.9"/>
<rect x="70.55" y="240.49" width="10.80" height="56.81" fill="#939393" stroke="#555" stroke-width="0.9"/>
<line x1="89.05" y1="275.28" x2="89.05" y2="271.64" stroke="#555" stroke-width="0.9"/>
<line x1="86.35" y1="271.64" x2="91.75" y2="271.64" stroke="#555" stroke-width="0.9"/>
<rect x="83.65" y="275.73" width="10.80" height="21.57" fill="#939393" stroke="#555" stroke-width="0.9"/>
<text x="89.05" y="268.24" font-size="10.5" text-anchor="middle" fill="#1c1c1c">*</text>
<line x1="103.25" y1="241.96" x2="103.25" y2="238.89" stroke="#555" stroke-width="0.9"/>
<line x1="100.55" y1="238.89" x2="105.95" y2="238.89" stroke="#555" stroke-width="0.9"/>
<rect x="97.85" y="242.41" width="10.80" height="54.89" fill="#939393" stroke="#555" stroke-width="0.9"/>
<line x1="117.35" y1="266.09" x2="117.35" y2="259.38" stroke="#555" stroke-width="0.9"/>
<line x1="114.65" y1="259.38" x2="120.05" y2="259.38" stroke="#555" stroke-width="0.9"/>
<rect x="111.95" y="266.54" width="10.80" height="30.76" fill="#939393" stroke="#555" stroke-width="0.9"/>
<line x1="131.65" y1="286.58" x2="131.65" y2="281.02" stroke="#555" stroke-width="0.9"/>
<line x1="128.95" y1="281.02" x2="134.35" y2="281.02" stroke="#555" stroke-width="0.9"/>
<rect x="126.25" y="287.03" width="10.80" height="10.27" fill="#939393" stroke="#555" stroke-width="0.9"/>
<text x="131.65" y="277.62" font-size="10.5" text-anchor="middle" fill="#1c1c1c" letter-spacing="0.3">**</text>
<line x1="145.65" y1="278.34" x2="145.65" y2="277.00" stroke="#555" stroke-width="0.9"/>
<line x1="142.95" y1="277.00" x2="148.35" y2="277.00" stroke="#555" stroke-width="0.9"/>
<rect x="140.25" y="278.79" width="10.80" height="18.51" fill="#939393" stroke="#555" stroke-width="0.9"/>
<text x="145.65" y="273.6" font-size="10.5" text-anchor="middle" fill="#1c1c1c" letter-spacing="0.3">**</text>
<line x1="159.75" y1="240.23" x2="159.75" y2="235.45" stroke="#555" stroke-width="0.9"/>
<line x1="157.05" y1="235.45" x2="162.45" y2="235.45" stroke="#555" stroke-width="0.9"/>
<rect x="154.35" y="240.68" width="10.80" height="56.62" fill="#939393" stroke="#555" stroke-width="0.9"/>
<line x1="25.50" y1="300.50" x2="53.50" y2="300.50" stroke="#444" stroke-width="0.9"/>
<text x="39.3" y="307.5" font-size="7.5" text-anchor="end" fill="#1c1c1c" transform="rotate(-45 39.3 307.5)">Control</text>
<text x="63.2" y="305.8" font-size="7.5" text-anchor="end" fill="#1c1c1c" transform="rotate(-45 63.2 305.8)">HP2/1</text>
<text x="76.7" y="305.8" font-size="7.5" text-anchor="end" fill="#1c1c1c" transform="rotate(-45 76.7 305.8)">HP1/7</text>
<text x="90.7" y="305.8" font-size="7.5" text-anchor="end" fill="#1c1c1c" transform="rotate(-45 90.7 305.8)">CS1</text>
<text x="104.9" y="305.8" font-size="7.5" text-anchor="end" fill="#1c1c1c" transform="rotate(-45 104.9 305.8)">CS3</text>
<text x="119.0" y="305.8" font-size="7.5" text-anchor="end" fill="#1c1c1c" transform="rotate(-45 119.0 305.8)">anti-CD44</text>
<text x="134.8" y="305.8" font-size="7.5" text-anchor="end" fill="#1c1c1c" transform="rotate(-45 134.8 305.8)">&#946;1 siRNA,</text>
<text x="148.8" y="305.8" font-size="7.5" text-anchor="end" fill="#1c1c1c" transform="rotate(-45 148.8 305.8)">CD44 siRNA,</text>
<text x="162.9" y="305.8" font-size="7.5" text-anchor="end" fill="#1c1c1c" transform="rotate(-45 162.9 305.8)">Ctl siRNA</text>
<line x1="171.30" y1="201.05" x2="171.30" y2="297.80" stroke="#3a3a3a" stroke-width="0.95"/>
<line x1="170.80" y1="297.30" x2="235.70" y2="297.30" stroke="#3a3a3a" stroke-width="0.95"/>
<line x1="169.50" y1="297.30" x2="171.30" y2="297.30" stroke="#3a3a3a" stroke-width="0.9"/>
<line x1="169.50" y1="278.15" x2="171.30" y2="278.15" stroke="#3a3a3a" stroke-width="0.9"/>
<line x1="169.50" y1="259.00" x2="171.30" y2="259.00" stroke="#3a3a3a" stroke-width="0.9"/>
<line x1="169.50" y1="239.85" x2="171.30" y2="239.85" stroke="#3a3a3a" stroke-width="0.9"/>
<line x1="169.50" y1="220.70" x2="171.30" y2="220.70" stroke="#3a3a3a" stroke-width="0.9"/>
<line x1="169.50" y1="201.55" x2="171.30" y2="201.55" stroke="#3a3a3a" stroke-width="0.9"/>
<rect x="175.60" y="200.30" width="4.40" height="4.80" fill="url(#hatch)" stroke="#555" stroke-width="0.8"/>
<text x="183.5" y="205.6" font-size="8.1" fill="#1c1c1c">VCAM-1</text>
<line x1="180.00" y1="232.38" x2="180.00" y2="226.06" stroke="#555" stroke-width="0.9"/>
<line x1="177.30" y1="226.06" x2="182.70" y2="226.06" stroke="#555" stroke-width="0.9"/>
<rect x="174.65" y="232.83" width="10.70" height="64.47" fill="url(#hatch)" stroke="#555" stroke-width="0.9"/>
<line x1="194.00" y1="279.68" x2="194.00" y2="277.38" stroke="#555" stroke-width="0.9"/>
<line x1="191.30" y1="277.38" x2="196.70" y2="277.38" stroke="#555" stroke-width="0.9"/>
<rect x="188.65" y="280.13" width="10.70" height="17.17" fill="url(#hatch)" stroke="#555" stroke-width="0.9"/>
<text x="194.0" y="273.98" font-size="10.5" text-anchor="middle" fill="#1c1c1c" letter-spacing="0.3">**</text>
<line x1="208.00" y1="224.72" x2="208.00" y2="215.34" stroke="#555" stroke-width="0.9"/>
<line x1="205.30" y1="215.34" x2="210.70" y2="215.34" stroke="#555" stroke-width="0.9"/>
<rect x="202.65" y="225.17" width="10.70" height="72.13" fill="url(#hatch)" stroke="#555" stroke-width="0.9"/>
<line x1="222.40" y1="225.49" x2="222.40" y2="216.10" stroke="#555" stroke-width="0.9"/>
<line x1="219.70" y1="216.10" x2="225.10" y2="216.10" stroke="#555" stroke-width="0.9"/>
<rect x="217.05" y="225.94" width="10.70" height="71.36" fill="url(#hatch)" stroke="#555" stroke-width="0.9"/>
<text x="180.8" y="305.8" font-size="7.5" text-anchor="end" fill="#1c1c1c" transform="rotate(-45 180.8 305.8)">Control</text>
<text x="197.4" y="305.8" font-size="7.5" text-anchor="end" fill="#1c1c1c" transform="rotate(-45 197.4 305.8)">&#946;1 siRNA,</text>
<text x="211.7" y="305.8" font-size="7.5" text-anchor="end" fill="#1c1c1c" transform="rotate(-45 211.7 305.8)">CD44 siRNA,</text>
<text x="225.9" y="305.8" font-size="7.5" text-anchor="end" fill="#1c1c1c" transform="rotate(-45 225.9 305.8)">Ctl siRNA</text>
<text x="253.3" y="187.8" font-size="12" font-weight="bold" fill="#111">E</text>
<line x1="278.40" y1="296.70" x2="518.60" y2="296.70" stroke="#3a3a3a" stroke-width="0.95"/>
<line x1="278.90" y1="199.80" x2="278.90" y2="297.20" stroke="#3a3a3a" stroke-width="0.95"/>
<line x1="277.30" y1="296.70" x2="278.90" y2="296.70" stroke="#3a3a3a" stroke-width="0.9"/>
<line x1="277.30" y1="277.42" x2="278.90" y2="277.42" stroke="#3a3a3a" stroke-width="0.9"/>
<line x1="277.30" y1="258.14" x2="278.90" y2="258.14" stroke="#3a3a3a" stroke-width="0.9"/>
<line x1="277.30" y1="238.86" x2="278.90" y2="238.86" stroke="#3a3a3a" stroke-width="0.9"/>
<line x1="277.30" y1="219.58" x2="278.90" y2="219.58" stroke="#3a3a3a" stroke-width="0.9"/>
<line x1="277.30" y1="200.30" x2="278.90" y2="200.30" stroke="#3a3a3a" stroke-width="0.9"/>
<text x="282.5" y="205.0" font-size="8.2" fill="#1c1c1c">BRO168</text>
<line x1="287.75" y1="287.06" x2="287.75" y2="285.61" stroke="#555" stroke-width="0.9"/>
<line x1="285.35" y1="285.61" x2="290.15" y2="285.61" stroke="#555" stroke-width="0.9"/>
<rect x="282.35" y="287.51" width="10.80" height="9.19" fill="#ffffff" stroke="#555" stroke-width="0.9"/>
<text x="289.85" y="306.0" font-size="7.5" text-anchor="end" fill="#1c1c1c" transform="rotate(-42 289.85 306.0)">BSA</text>
<line x1="302.75" y1="285.13" x2="302.75" y2="280.79" stroke="#555" stroke-width="0.9"/>
<line x1="300.35" y1="280.79" x2="305.15" y2="280.79" stroke="#555" stroke-width="0.9"/>
<rect x="297.35" y="285.58" width="10.80" height="11.12" fill="#939393" stroke="#555" stroke-width="0.9"/>
<text x="304.85" y="306.0" font-size="7.5" text-anchor="end" fill="#1c1c1c" transform="rotate(-42 304.85 306.0)">proMMP-9</text>
<line x1="317.35" y1="254.28" x2="317.35" y2="249.95" stroke="#555" stroke-width="0.9"/>
<line x1="314.95" y1="249.95" x2="319.75" y2="249.95" stroke="#555" stroke-width="0.9"/>
<rect x="311.95" y="254.73" width="10.80" height="41.97" fill="url(#hatch)" stroke="#555" stroke-width="0.9"/>
<text x="319.45" y="306.0" font-size="7.5" text-anchor="end" fill="#1c1c1c" transform="rotate(-42 319.45 306.0)">VCAM-1</text>
<line x1="327.50" y1="199.80" x2="327.50" y2="297.20" stroke="#3a3a3a" stroke-width="0.95"/>
<line x1="325.90" y1="296.70" x2="327.50" y2="296.70" stroke="#3a3a3a" stroke-width="0.9"/>
<line x1="325.90" y1="277.42" x2="327.50" y2="277.42" stroke="#3a3a3a" stroke-width="0.9"/>
<line x1="325.90" y1="258.14" x2="327.50" y2="258.14" stroke="#3a3a3a" stroke-width="0.9"/>
<line x1="325.90" y1="238.86" x2="327.50" y2="238.86" stroke="#3a3a3a" stroke-width="0.9"/>
<line x1="325.90" y1="219.58" x2="327.50" y2="219.58" stroke="#3a3a3a" stroke-width="0.9"/>
<line x1="325.90" y1="200.30" x2="327.50" y2="200.30" stroke="#3a3a3a" stroke-width="0.9"/>
<text x="330.9" y="205.0" font-size="8.2" fill="#1c1c1c">HUT112</text>
<line x1="336.05" y1="295.25" x2="336.05" y2="288.70" stroke="#555" stroke-width="0.9"/>
<line x1="333.65" y1="288.70" x2="338.45" y2="288.70" stroke="#555" stroke-width="0.9"/>
<rect x="330.65" y="295.70" width="10.80" height="1.00" fill="#ffffff" stroke="#555" stroke-width="0.9"/>
<text x="338.15" y="306.0" font-size="7.5" text-anchor="end" fill="#1c1c1c" transform="rotate(-42 338.15 306.0)">BSA</text>
<text x="352.95" y="306.0" font-size="7.5" text-anchor="end" fill="#1c1c1c" transform="rotate(-42 352.95 306.0)">proMMP-9</text>
<line x1="364.25" y1="216.21" x2="364.25" y2="208.98" stroke="#555" stroke-width="0.9"/>
<line x1="361.85" y1="208.98" x2="366.65" y2="208.98" stroke="#555" stroke-width="0.9"/>
<rect x="358.85" y="216.66" width="10.80" height="80.04" fill="url(#hatch)" stroke="#555" stroke-width="0.9"/>
<text x="366.35" y="306.0" font-size="7.5" text-anchor="end" fill="#1c1c1c" transform="rotate(-42 366.35 306.0)">VCAM-1</text>
<line x1="374.50" y1="199.80" x2="374.50" y2="297.20" stroke="#3a3a3a" stroke-width="0.95"/>
<line x1="372.90" y1="296.70" x2="374.50" y2="296.70" stroke="#3a3a3a" stroke-width="0.9"/>
<line x1="372.90" y1="277.42" x2="374.50" y2="277.42" stroke="#3a3a3a" stroke-width="0.9"/>
<line x1="372.90" y1="258.14" x2="374.50" y2="258.14" stroke="#3a3a3a" stroke-width="0.9"/>
<line x1="372.90" y1="238.86" x2="374.50" y2="238.86" stroke="#3a3a3a" stroke-width="0.9"/>
<line x1="372.90" y1="219.58" x2="374.50" y2="219.58" stroke="#3a3a3a" stroke-width="0.9"/>
<line x1="372.90" y1="200.30" x2="374.50" y2="200.30" stroke="#3a3a3a" stroke-width="0.9"/>
<text x="377.2" y="205.0" font-size="8.2" fill="#1c1c1c">PB-BL</text>
<line x1="382.95" y1="280.99" x2="382.95" y2="280.12" stroke="#555" stroke-width="0.9"/>
<line x1="380.55" y1="280.12" x2="385.35" y2="280.12" stroke="#555" stroke-width="0.9"/>
<rect x="377.55" y="281.44" width="10.80" height="15.26" fill="#ffffff" stroke="#555" stroke-width="0.9"/>
<text x="385.05" y="306.0" font-size="7.5" text-anchor="end" fill="#1c1c1c" transform="rotate(-42 385.05 306.0)">BSA</text>
<line x1="397.85" y1="283.20" x2="397.85" y2="279.35" stroke="#555" stroke-width="0.9"/>
<line x1="395.45" y1="279.35" x2="400.25" y2="279.35" stroke="#555" stroke-width="0.9"/>
<rect x="392.45" y="283.65" width="10.80" height="13.05" fill="#939393" stroke="#555" stroke-width="0.9"/>
<text x="399.95" y="306.0" font-size="7.5" text-anchor="end" fill="#1c1c1c" transform="rotate(-42 399.95 306.0)">proMMP-9</text>
<line x1="412.55" y1="230.76" x2="412.55" y2="228.45" stroke="#555" stroke-width="0.9"/>
<line x1="410.15" y1="228.45" x2="414.95" y2="228.45" stroke="#555" stroke-width="0.9"/>
<rect x="407.15" y="231.21" width="10.80" height="65.49" fill="url(#hatch)" stroke="#555" stroke-width="0.9"/>
<text x="414.65" y="306.0" font-size="7.5" text-anchor="end" fill="#1c1c1c" transform="rotate(-42 414.65 306.0)">VCAM-1</text>
<line x1="422.50" y1="199.80" x2="422.50" y2="297.20" stroke="#3a3a3a" stroke-width="0.95"/>
<line x1="420.90" y1="296.70" x2="422.50" y2="296.70" stroke="#3a3a3a" stroke-width="0.9"/>
<line x1="420.90" y1="277.42" x2="422.50" y2="277.42" stroke="#3a3a3a" stroke-width="0.9"/>
<line x1="420.90" y1="258.14" x2="422.50" y2="258.14" stroke="#3a3a3a" stroke-width="0.9"/>
<line x1="420.90" y1="238.86" x2="422.50" y2="238.86" stroke="#3a3a3a" stroke-width="0.9"/>
<line x1="420.90" y1="219.58" x2="422.50" y2="219.58" stroke="#3a3a3a" stroke-width="0.9"/>
<line x1="420.90" y1="200.30" x2="422.50" y2="200.30" stroke="#3a3a3a" stroke-width="0.9"/>
<text x="424.5" y="205.0" font-size="8.2" fill="#1c1c1c">Tonsil-BL</text>
<line x1="430.55" y1="275.01" x2="430.55" y2="272.02" stroke="#555" stroke-width="0.9"/>
<line x1="428.15" y1="272.02" x2="432.95" y2="272.02" stroke="#555" stroke-width="0.9"/>
<rect x="425.15" y="275.46" width="10.80" height="21.24" fill="#ffffff" stroke="#555" stroke-width="0.9"/>
<text x="432.65" y="306.0" font-size="7.5" text-anchor="end" fill="#1c1c1c" transform="rotate(-42 432.65 306.0)">BSA</text>
<line x1="445.45" y1="268.17" x2="445.45" y2="265.18" stroke="#555" stroke-width="0.9"/>
<line x1="443.05" y1="265.18" x2="447.85" y2="265.18" stroke="#555" stroke-width="0.9"/>
<rect x="440.05" y="268.62" width="10.80" height="28.08" fill="#939393" stroke="#555" stroke-width="0.9"/>
<text x="447.55" y="306.0" font-size="7.5" text-anchor="end" fill="#1c1c1c" transform="rotate(-42 447.55 306.0)">proMMP-9</text>
<line x1="460.25" y1="239.82" x2="460.25" y2="234.04" stroke="#555" stroke-width="0.9"/>
<line x1="457.85" y1="234.04" x2="462.65" y2="234.04" stroke="#555" stroke-width="0.9"/>
<rect x="454.85" y="240.27" width="10.80" height="56.43" fill="url(#hatch)" stroke="#555" stroke-width="0.9"/>
<text x="462.35" y="306.0" font-size="7.5" text-anchor="end" fill="#1c1c1c" transform="rotate(-42 462.35 306.0)">VCAM-1</text>
<line x1="469.40" y1="199.80" x2="469.40" y2="297.20" stroke="#3a3a3a" stroke-width="0.95"/>
<line x1="467.80" y1="296.70" x2="469.40" y2="296.70" stroke="#3a3a3a" stroke-width="0.9"/>
<line x1="467.80" y1="277.42" x2="469.40" y2="277.42" stroke="#3a3a3a" stroke-width="0.9"/>
<line x1="467.80" y1="258.14" x2="469.40" y2="258.14" stroke="#3a3a3a" stroke-width="0.9"/>
<line x1="467.80" y1="238.86" x2="469.40" y2="238.86" stroke="#3a3a3a" stroke-width="0.9"/>
<line x1="467.80" y1="219.58" x2="469.40" y2="219.58" stroke="#3a3a3a" stroke-width="0.9"/>
<line x1="467.80" y1="200.30" x2="469.40" y2="200.30" stroke="#3a3a3a" stroke-width="0.9"/>
<text x="473.4" y="205.0" font-size="8.2" fill="#1c1c1c">Mantle-BL</text>
<line x1="478.55" y1="287.06" x2="478.55" y2="284.17" stroke="#555" stroke-width="0.9"/>
<line x1="476.15" y1="284.17" x2="480.95" y2="284.17" stroke="#555" stroke-width="0.9"/>
<rect x="473.15" y="287.51" width="10.80" height="9.19" fill="#ffffff" stroke="#555" stroke-width="0.9"/>
<text x="480.65" y="306.0" font-size="7.5" text-anchor="end" fill="#1c1c1c" transform="rotate(-42 480.65 306.0)">BSA</text>
<line x1="493.25" y1="285.13" x2="493.25" y2="283.49" stroke="#555" stroke-width="0.9"/>
<line x1="490.85" y1="283.49" x2="495.65" y2="283.49" stroke="#555" stroke-width="0.9"/>
<rect x="487.85" y="285.58" width="10.80" height="11.12" fill="#939393" stroke="#555" stroke-width="0.9"/>
<text x="495.35" y="306.0" font-size="7.5" text-anchor="end" fill="#1c1c1c" transform="rotate(-42 495.35 306.0)">proMMP-9</text>
<line x1="507.45" y1="244.35" x2="507.45" y2="240.79" stroke="#555" stroke-width="0.9"/>
<line x1="505.05" y1="240.79" x2="509.85" y2="240.79" stroke="#555" stroke-width="0.9"/>
<rect x="502.05" y="244.80" width="10.80" height="51.90" fill="url(#hatch)" stroke="#555" stroke-width="0.9"/>
<text x="509.55" y="306.0" font-size="7.5" text-anchor="end" fill="#1c1c1c" transform="rotate(-42 509.55 306.0)">VCAM-1</text>
<text x="276.8" y="300.1" font-size="7.0" text-anchor="end" fill="#1c1c1c">0</text>
<text x="276.8" y="280.82" font-size="7.0" text-anchor="end" fill="#1c1c1c">20</text>
<text x="276.8" y="261.54" font-size="7.0" text-anchor="end" fill="#1c1c1c">40</text>
<text x="276.8" y="242.26" font-size="7.0" text-anchor="end" fill="#1c1c1c">60</text>
<text x="276.8" y="222.98" font-size="7.0" text-anchor="end" fill="#1c1c1c">80</text>
<text x="276.8" y="203.7" font-size="7.0" text-anchor="end" fill="#1c1c1c">100</text>
<text x="260.2" y="248.6" font-size="9.5" text-anchor="middle" fill="#1c1c1c" transform="rotate(-90 260.2 248.6)">% Cell adhesion</text>
</svg>
</body></html>
